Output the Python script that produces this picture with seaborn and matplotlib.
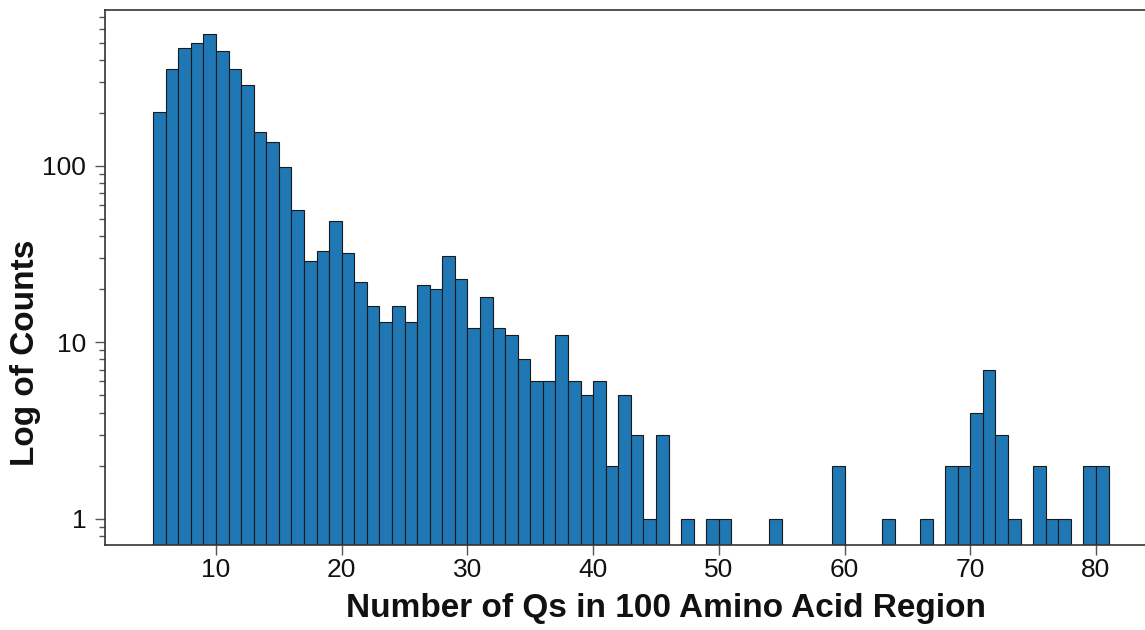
import numpy as np
import pandas as pd
import matplotlib
matplotlib.use("Agg")
import matplotlib.pyplot as plt
import seaborn as sns
from matplotlib.ticker import LogLocator, FixedLocator, NullFormatter, FuncFormatter

# Data: number of Qs (bin left edge) and counts
q_values = [5, 6, 7, 8, 9, 10, 11, 12, 13, 14, 15, 16, 17, 18, 19, 20,
            21, 22, 23, 24, 25, 26, 27, 28, 29, 30, 31, 32, 33, 34, 35, 36,
            37, 38, 39, 40, 41, 42, 43, 44, 45, 47, 49, 50, 54, 59, 63, 66,
            68, 69, 70, 71, 72, 73, 75, 76, 77, 79, 80]
counts = [203, 354, 468, 498, 557, 448, 353, 289, 155, 137, 99, 56, 29, 33, 49, 32,
          22, 16, 13, 16, 13, 21, 20, 31, 23, 12, 18, 12, 11, 8, 6, 6,
          11, 6, 5, 6, 2, 5, 3, 1, 3, 1, 1, 1, 1, 2, 1, 1,
          2, 2, 4, 7, 3, 1, 2, 1, 1, 2, 2]
x_ticks = [10, 20, 30, 40, 50, 60, 70, 80]
y_ticks = [1, 10, 100]
x_label = "Number of Qs in 100 Amino Acid Region"
y_label = "Log of Counts"

df = pd.DataFrame({"q": np.array(q_values, dtype=float) + 0.5,
                   "count": np.array(counts, dtype=float)})

sns.set_style("white")
plt.rcParams["font.family"] = ["Liberation Sans", "DejaVu Sans"]

fig = plt.figure(figsize=(11.45, 6.30), dpi=100)
ax = fig.add_axes([0.0917, 0.135, 0.9083, 0.849])

sns.histplot(data=df, x="q", weights="count", binwidth=1, binrange=(5, 81),
             color="#1f77b4", alpha=1.0, edgecolor="#1a1a1a", linewidth=0.8,
             ax=ax)
ax.set_yscale("log")
ax.set_ylim(0.71, 765)
ax.set_xlim(1.17, 83.9)

ax.xaxis.set_major_locator(FixedLocator(x_ticks))
ax.yaxis.set_major_locator(FixedLocator(y_ticks))
ax.yaxis.set_major_formatter(FuncFormatter(lambda v, p: f"{int(v)}"))
ax.yaxis.set_minor_locator(LogLocator(base=10, subs=np.arange(2, 10), numticks=20))
ax.yaxis.set_minor_formatter(NullFormatter())

ax.tick_params(axis="both", which="major", direction="out", length=7.5, width=1,
               color="#555555", labelsize=19, labelcolor="#111111")
ax.tick_params(axis="y", which="major", pad=6)
ax.tick_params(axis="y", which="minor", direction="out", length=4, width=1,
               color="#555555")
ax.tick_params(axis="x", which="major", bottom=True, pad=2)
ax.tick_params(axis="y", which="both", left=True)

for side in ["left", "bottom", "top"]:
    ax.spines[side].set_visible(True)
    ax.spines[side].set_color("#333333")
    ax.spines[side].set_linewidth(1.2)
ax.spines["right"].set_visible(False)

ax.set_xlabel(x_label, fontsize=24, fontweight="bold", color="#111111")
ax.set_ylabel(y_label, fontsize=24, fontweight="bold", color="#111111")
ax.xaxis.set_label_coords(0.539, -0.118)
ax.yaxis.set_label_coords(-0.076, 0.359)
ax.xaxis.label.set_va("center")
ax.yaxis.label.set_va("center")

fig.savefig("out.png", dpi=100)
